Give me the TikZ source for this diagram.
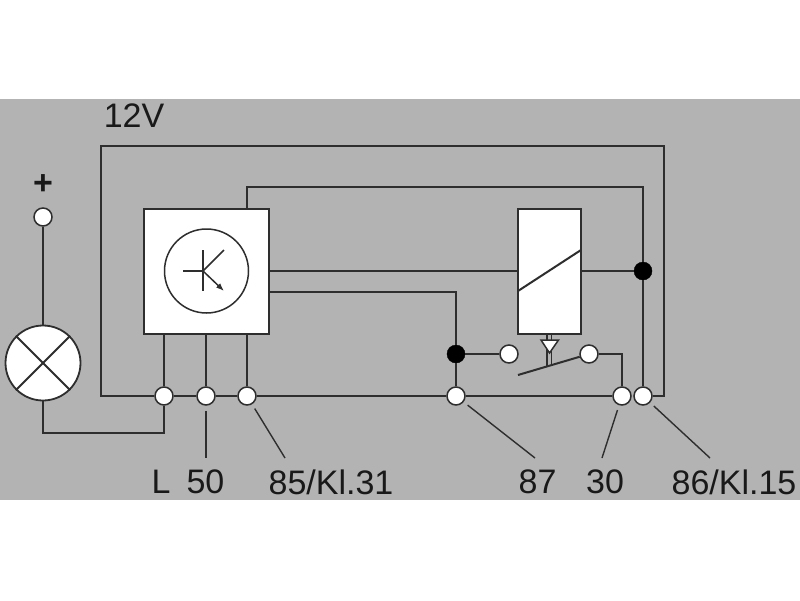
\documentclass[tikz,border=0pt]{standalone}
\usepackage{fontspec}
\setmainfont{Liberation Sans}
\usetikzlibrary{arrows.meta}
\definecolor{panel}{HTML}{B3B3B3}
\definecolor{wire}{HTML}{2E2E2E}
\tikzset{
	terminal/.style={draw=wire,fill=white,circle,line width=1.5pt,minimum size=18pt,inner sep=0pt},
	joint/.style={fill=black,draw=black,circle,minimum size=18pt,inner sep=0pt},
	module/.style={draw=wire,fill=white,rectangle,line width=2pt,anchor=north west,inner sep=0pt,outer sep=0pt},
	wireline/.style={draw=wire,line width=2pt},
	thinline/.style={draw=wire,line width=1.5pt},
	leader/.style={draw=wire,line width=1.4pt,shorten <=5pt},
	pinlabel/.style={font=\fontsize{34}{34}\selectfont,text=black!90,inner sep=0pt}
}
\begin{document}
\begin{tikzpicture}[x=1pt,y=-1pt]
	\useasboundingbox (0,0) rectangle (800,600);
	\fill[panel] (0,99) rectangle (800,500);

	% outer loop
	\coordinate (tl) at (101,146);
	\coordinate (tr) at (664,146);
	\coordinate (bl) at (101,396);
	\coordinate (br) at (664,396);

	% boxes
	\node[module,minimum width=125pt,minimum height=125pt] (ctrl) at (144,208.5) {};
	\node[module,minimum width=63pt,minimum height=125pt] (relay) at (518,208.5) {};
	\node[draw=wire,fill=white,circle,line width=1.5pt,minimum size=84pt,inner sep=0pt] (tube) at (206.5,271) {};
	\node[draw=wire,fill=white,circle,line width=1.8pt,minimum size=75pt,inner sep=0pt] (lamp) at (43,363) {};

	% terminals
	\node[terminal] (plus) at (43,217) {};
	\foreach \name/\x in {tL/164,t50/206,t85/247,t87/456,t30/622,t86/643}
		\node[terminal] (\name) at (\x,396) {};
	\node[terminal] (c1) at (509,354) {};
	\node[terminal] (c2) at (589,354) {};
	\node[joint] (j1) at (456,354) {};
	\node[joint] (j2) at (643,271) {};

	% wires
	\draw[wireline] (tL) -- (bl) -- (tl) -- (tr) -- (br) -- (t86);
	\draw[wireline] (tL) -- (t50);
	\draw[wireline] (t50) -- (t85);
	\draw[wireline] (t85) -- (t87);
	\draw[wireline] (t87) -- (t30);
	\draw[wireline] (plus) -- (lamp);
	\coordinate (la) at (43,433);
	\coordinate (lb) at (164,433);
	\draw[wireline] (lamp) -- (la) -- (lb) -- (tL);
	\draw[wireline] (tL |- ctrl.south) -- (tL);
	\draw[wireline] (t50 |- ctrl.south) -- (t50);
	\draw[wireline] (t85 |- ctrl.south) -- (t85);
	\coordinate (ta) at (247,187);
	\coordinate (tb) at (643,187);
	\draw[wireline] (t85 |- ctrl.north) -- (ta) -- (tb) -- (j2);
	\draw[wireline] (j2) -- (t86);
	\draw[wireline] (ctrl.east) -- (relay.west);
	\draw[wireline] (relay.east) -- (j2);
	\coordinate (oa) at (269,292);
	\coordinate (ob) at (456,292);
	\draw[wireline] (oa) -- (ob) -- (j1);
	\draw[wireline] (j1) -- (t87);
	\draw[wireline] (j1) -- (c1);
	\coordinate (ca) at (622,354);
	\draw[wireline] (c2) -- (ca) -- (t30);

	% lamp cross
	\draw[wireline] (lamp.north west) -- (lamp.south east);
	\draw[wireline] (lamp.north east) -- (lamp.south west);

	% transistor
	\draw[thinline] (183,271) -- (203,271);
	\draw[thinline] (203,250) -- (203,291);
	\draw[thinline] (203,271) -- (224,250);
	\draw[thinline,-{Latex[length=8pt,width=6pt]}] (203,271) -- (224,291);

	% relay coil
	\draw[wireline] (518,291) -- (581,250);

	% switch
	\coordinate (bladeend) at (518,375);
	\draw[wireline] (bladeend) -- (c2);
	\draw[thinline] (547,333) -- (547,366);
	\draw[thinline] (551.5,333) -- (551.5,365);
	\draw[thinline,fill=white] (541,340) -- (558.5,340) -- (549.5,353) -- cycle;

	% leaders
	\coordinate (e50) at (206,458);
	\coordinate (e85) at (285,458);
	\coordinate (e87) at (535,458);
	\coordinate (e30) at (602,458);
	\coordinate (e86) at (710,458);
	\foreach \name in {50,85,87,30,86}
		\draw[leader] (t\name) -- (e\name);

	% labels
	\node[pinlabel] (lv) at (134,116) {12V};
	\node[pinlabel,font=\fontsize{34}{34}\selectfont\bfseries] (lplus) at (43,185) {+};
	\node[pinlabel] (lL) at (161,482) {L};
	\node[pinlabel] (l50) at (205.5,482) {50};
	\node[pinlabel] (l85) at (331,482) {85/Kl.31};
	\node[pinlabel] (l87) at (537.5,482) {87};
	\node[pinlabel] (l30) at (605,482) {30};
	\node[pinlabel] (l86) at (734,482) {86/Kl.15};
\end{tikzpicture}
\end{document}
